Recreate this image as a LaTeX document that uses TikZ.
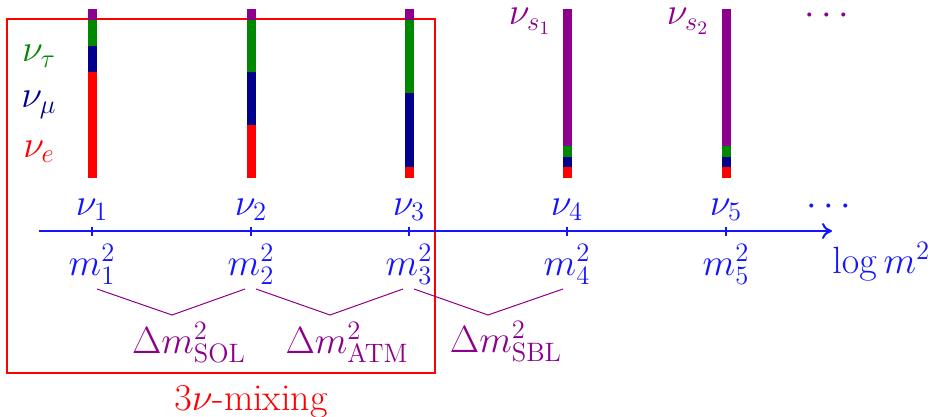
\RequirePackage{fix-cm}
\documentclass[tikz,border=0pt]{standalone}
\usepackage{xcolor}
\usepackage{tikz}
\usetikzlibrary{arrows.meta}
\definecolor{nured}{RGB}{255,0,0}
\definecolor{nunavy}{RGB}{0,0,140}
\definecolor{nugreen}{RGB}{0,136,0}
\definecolor{nupurple}{RGB}{140,0,140}
\definecolor{axblue}{RGB}{20,20,255}
\newcommand{\figfont}{\fontsize{19}{23}\selectfont}
\tikzset{
  lbl/.style={font=\figfont,text=axblue,anchor=base,inner sep=0pt},
  flav/.style={font=\figfont,anchor=base,inner sep=0pt},
  gap/.style={font=\figfont,text=nupurple,anchor=base,inner sep=0pt},
  brace/.style={draw=nupurple,line width=0.5pt},
  axis/.style={draw=axblue,line width=1pt,-{To[length=5pt,width=8pt]}},
  tick/.style={draw=axblue,line width=0.6pt},
  mixbox/.style={draw=nured,line width=0.8pt},
}

\begin{document}
\begin{tikzpicture}[x=0.5pt,y=-0.5pt]
  \useasboundingbox (0,0) rectangle (931,417);
  % the three active states
  \draw[mixbox] (7,19) rectangle (435,373);
  \node[lbl,text=nured] (mix) at (251,410) {$3\nu$-mixing};
  % flavour content of each mass state
  \foreach \i/\x/\a/\b/\c in {1/92/72/46/20,2/251/125/72/20,3/409/167/93/20,4/567/167/157/146,5/726/167/157/146} {
    \fill[nured] (\x-4.5,178) rectangle (\x+4.5,\a);
    \fill[nunavy] (\x-4.5,\a) rectangle (\x+4.5,\b);
    \fill[nugreen] (\x-4.5,\b) rectangle (\x+4.5,\c);
    \fill[nupurple] (\x-4.5,\c) rectangle (\x+4.5,9);
    \node[lbl] (nu\i) at (\x,215) {$\nu_{\i}$};
    \node[lbl] (m\i) at (\x,275) {$m^2_{\i}$};
    \coordinate (t\i) at (\x,231);
  }
  \node[flav,text=nugreen] (nutau) at (39,62) {$\nu_\tau$};
  \node[flav,text=nunavy] (numu) at (39,108) {$\nu_\mu$};
  \node[flav,text=nured] (nue) at (39,157) {$\nu_e$};
  \node[gap] (nus1) at (530,25) {$\nu_{s_1}$};
  \node[gap] (nus2) at (688,25) {$\nu_{s_2}$};
  \node[gap] (sdots) at (827,25) {$\cdots$};
  \node[lbl] (ndots) at (829,215) {$\cdots$};
  % mass axis
  \coordinate (ax0) at (39,231);
  \coordinate (ax1) at (832,231);
  \draw[axis] (ax0) -- (ax1);
  \foreach \i in {1,...,5}
    \draw[tick] ([yshift=2.25pt]t\i) -- ([yshift=-2.25pt]t\i);
  \node[lbl,anchor=base west] (logm) at (832,273) {$\log m^2$};
  % splittings
  \foreach \j/\l/\c/\r in {1/97/172/245,2/256/330/403,3/414/488/563} {
    \coordinate (g\j a) at (\l,289);
    \coordinate (g\j b) at (\c,315);
    \coordinate (g\j c) at (\r,289);
    \draw[brace] (g\j a) -- (g\j b) -- (g\j c);
  }
  \node[gap] (sol) at (189,353) {$\Delta m^2_{\mathrm{SOL}}$};
  \node[gap] (atm) at (347,353) {$\Delta m^2_{\mathrm{ATM}}$};
  \node[gap] (sbl) at (506,352) {$\Delta m^2_{\mathrm{SBL}}$};
\end{tikzpicture}
\end{document}
